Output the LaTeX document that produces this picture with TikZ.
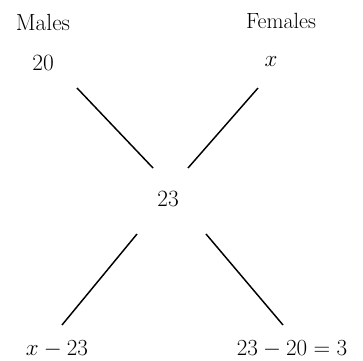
\documentclass[tikz,border=0pt]{standalone}
\usepackage{amsmath}
\usepackage{tikz}
\usetikzlibrary{positioning}

\begin{document}
\begin{tikzpicture}[x=0.75pt, y=-0.75pt,
    lbl/.style={anchor=base, inner sep=0pt, font=\fontsize{17.5}{21}\selectfont},
    leg/.style={line width=1.1pt, black}]
  \useasboundingbox (0,0) rectangle (363,360);
  % Headings
  \node[lbl] (males) at (43,31) {Males};
  \node[lbl, font=\fontsize{16.5}{20}\selectfont] (females) at (281,29) {Females};
  % Values
  \node[lbl] (v20) at (43,70.5) {20};
  \node[lbl] (vx) at (271,66.5) {$x$};
  \node[lbl] (mid) at (168,206.5) {23};
  \node[lbl] (vxm) at (57,355) {$x-23$};
  \node[lbl] (vdiff) at (292,355) {$23-20=3$};
  % Line ends
  \foreach \n/\p in {a1/{77,88}, a2/{153,168}, b1/{258,88}, b2/{188,168},
                     c1/{137,234}, c2/{62,325}, d1/{206,234}, d2/{283,325}} {
    \coordinate (\n) at (\p);
  }
  % Legs
  \draw[leg] (a1) -- (a2);
  \draw[leg] (b1) -- (b2);
  \draw[leg] (c1) -- (c2);
  \draw[leg] (d1) -- (d2);
\end{tikzpicture}
\end{document}
